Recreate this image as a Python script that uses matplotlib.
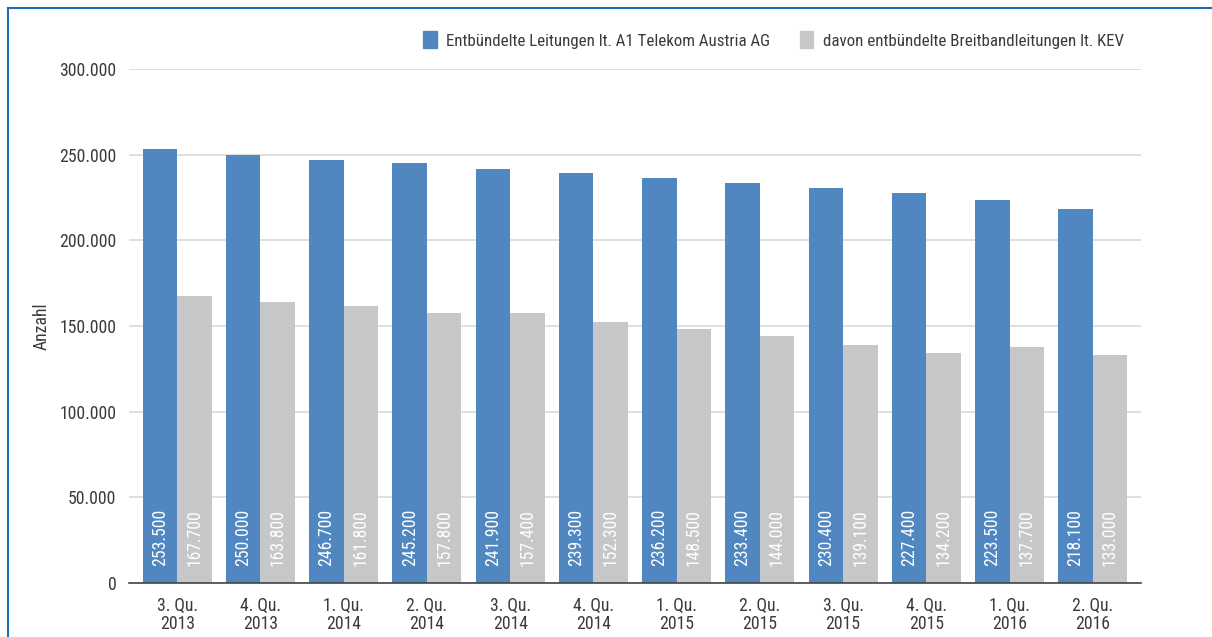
import matplotlib
matplotlib.use("Agg")
import matplotlib.pyplot as plt
from matplotlib.lines import Line2D
from matplotlib.patches import Patch
import numpy as np
from matplotlib import font_manager

quarters = ["3. Qu.\n2013", "4. Qu.\n2013", "1. Qu.\n2014", "2. Qu.\n2014",
            "3. Qu.\n2014", "4. Qu.\n2014", "1. Qu.\n2015", "2. Qu.\n2015",
            "3. Qu.\n2015", "4. Qu.\n2015", "1. Qu.\n2016", "2. Qu.\n2016"]
leitungen_a1 = [253500, 250000, 246700, 245200, 241900, 239300,
                236200, 233400, 230400, 227400, 223500, 218100]
breitband_kev = [167700, 163800, 161800, 157800, 157400, 152300,
                 148500, 144000, 139100, 134200, 137700, 133000]
series_names = ["Entbündelte Leitungen lt. A1 Telekom Austria AG",
                "davon entbündelte Breitbandleitungen lt. KEV"]
yticks = [0, 50000, 100000, 150000, 200000, 250000, 300000]

available = {f.name for f in font_manager.fontManager.ttflist}
family = "Roboto Condensed" if "Roboto Condensed" in available else "DejaVu Sans"
plt.rcParams["font.family"] = [family, "DejaVu Sans"]
plt.rcParams["font.weight"] = "normal"
plt.rcParams["axes.labelweight"] = "normal"

def fmt(v):
    return f"{v:,}".replace(",", ".")

BLUE = "#5187C1"
GREY = "#C6C7C9"
TEXT = "#3A3A3A"
FS = 12.7

fig = plt.figure(figsize=(12.12, 6.37), dpi=100)
ax = fig.add_axes([129 / 1212, 1 - 583 / 637, 1012 / 1212, 514 / 637])

x = np.arange(len(quarters))
w = 0.415
b1 = ax.bar(x - w / 2, leitungen_a1, w, color=BLUE, zorder=3)
b2 = ax.bar(x + w / 2, breitband_kev, w, color=GREY, zorder=3)

for bars, vals in ((b1, leitungen_a1), (b2, breitband_kev)):
    for r, v in zip(bars, vals):
        ax.text(r.get_x() + r.get_width() / 2, 9800, fmt(v), rotation=90,
                ha="center", va="bottom", color="white", fontsize=FS, zorder=4)

ax.set_xlim(-0.58, len(quarters) - 1 + 0.58)
ax.set_ylim(0, 300000)
ax.set_yticks(yticks)
ax.set_yticklabels([fmt(v) for v in yticks], fontsize=FS, color=TEXT)
ax.set_xticks(x)
ax.set_xticklabels(quarters, fontsize=FS, color=TEXT, linespacing=1.0)
ax.tick_params(axis="x", length=0, pad=10)
ax.tick_params(axis="y", length=0, pad=9)
ax.yaxis.grid(True, color="#D9D9D9", linewidth=1.2, zorder=0)
for s in ("top", "right", "left"):
    ax.spines[s].set_visible(False)
ax.spines["bottom"].set_color("#444444")
ax.spines["bottom"].set_linewidth(1.2)
ax.spines["bottom"].set_zorder(5)
ax.set_ylabel("Anzahl", fontsize=FS, color=TEXT, labelpad=6)

handles = [Patch(color=BLUE), Patch(color=GREY)]
fig.legend(handles, series_names, loc="center left", bbox_to_anchor=(408 / 1212, 1 - 40 / 637),
           ncol=2, frameon=False, fontsize=12.2, handlelength=0.8, handleheight=1.15,
           handletextpad=0.55, columnspacing=1.75, labelcolor=TEXT)

# outer frame lines
fig.add_artist(Line2D([8 / 1212, 8 / 1212], [0, 1 - 8 / 637], transform=fig.transFigure,
                      color="#1F6CB3", linewidth=1.5))
fig.add_artist(Line2D([8 / 1212, 1], [1 - 8 / 637, 1 - 8 / 637], transform=fig.transFigure,
                      color="#1F6CB3", linewidth=1.5))

fig.savefig("out.png", dpi=100)
